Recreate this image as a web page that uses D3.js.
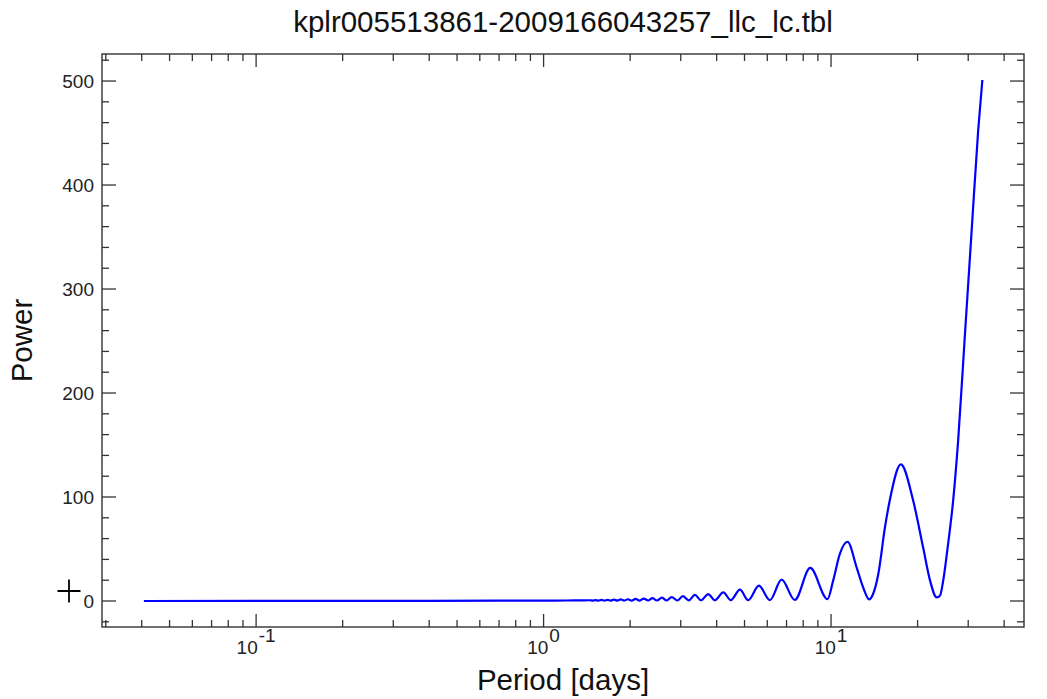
<!DOCTYPE html>
<html>
<head>
<meta charset="utf-8">
<script src="https://cdn.jsdelivr.net/npm/d3@7"></script>
<style>
  body { margin: 0; background: #fff; }
  svg { font-family: "Liberation Sans", Arial, Helvetica, sans-serif; }
</style>
</head>
<body>
<svg id="chart" width="1047" height="699"></svg>
<script>
// periodogram: period in days, power
var period = [0.0407, 0.1, 0.2, 0.4, 0.7, 1.0, 1.2, 1.35, 1.44, 1.48, 1.515, 1.551, 1.588, 1.628,
  1.669, 1.712, 1.757, 1.805, 1.855, 1.908, 1.965, 2.025, 2.09, 2.155, 2.23, 2.31, 2.39, 2.48,
  2.58, 2.68, 2.79, 2.92, 3.05, 3.20, 3.36, 3.53, 3.74, 3.94, 4.22, 4.48, 4.82, 5.15, 5.61,
  6.13, 6.73, 7.48, 8.46, 9.72, 10.17, 10.73, 11.41, 12.27, 12.93, 13.57, 14.0, 14.6, 15.4,
  16.0, 17.49, 19.3, 20.9, 22.1, 23.3, 23.92, 24.55, 25.54, 26.59, 27.67, 29.2, 30.9, 32.5, 33.6];
var power = [0.02, 0.05, 0.1, 0.2, 0.3, 0.4, 0.5, 0.6, 0.7, 0.4, 0.9, 0.4, 1.0, 0.4,
  1.1, 0.4, 1.3, 0.4, 1.5, 0.4, 1.7, 0.4, 2.0, 0.4, 2.3, 0.5, 2.7, 0.5,
  3.2, 0.5, 3.8, 0.5, 4.6, 0.6, 5.8, 0.7, 6.7, 0.7, 8.3, 0.8, 10.9, 0.8, 14.7,
  0.9, 20.5, 1.0, 31.8, 1.8, 19.6, 45.3, 57.0, 32.4, 13.1, 1.5, 6.7, 26, 70.9,
  96.6, 131.3, 96.6, 51.6, 19.6, 3.5, 5, 19.5, 55, 96.6, 154, 255, 360, 453, 501];

var xDomain = [0.0291, 46.9];
var yDomain = [-25, 526];
var yMajor = [0, 100, 200, 300, 400, 500];
var xMajor = [0.1, 1, 10];
var xMajorExp = ["-1", "0", "1"];
var titleText = "kplr005513861-2009166043257_llc_lc.tbl";
var xTitle = "Period [days]";
var yTitle = "Power";

var svg = d3.select("#chart");
var m = {left: 102, right: 1024, top: 54, bottom: 627};
var axisColor = "#333";

var x = d3.scaleLog().domain(xDomain).range([m.left, m.right]);
var y = d3.scaleLinear().domain(yDomain).range([m.bottom, m.top]);

// minor ticks on the log axis: 2..9 x 10^n inside the domain
var xMinor = [];
[-2, -1, 0, 1].forEach(function(e) {
  for (var k = 2; k <= 9; k++) {
    var v = k * Math.pow(10, e);
    if (v > xDomain[0] && v < xDomain[1]) xMinor.push(v);
  }
});
var yMinor = d3.range(-20, 521, 20).filter(function(v) { return v % 100 !== 0; });

// frame
svg.append("rect")
  .attr("x", m.left).attr("y", m.top)
  .attr("width", m.right - m.left).attr("height", m.bottom - m.top)
  .attr("fill", "none").attr("stroke", axisColor).attr("stroke-width", 1.4);

var ticks = svg.append("g").attr("stroke", axisColor).attr("stroke-width", 1.3);

function xTick(v, len) {
  ticks.append("line").attr("x1", x(v)).attr("x2", x(v)).attr("y1", m.bottom).attr("y2", m.bottom - len);
  ticks.append("line").attr("x1", x(v)).attr("x2", x(v)).attr("y1", m.top).attr("y2", m.top + len);
}
function yTick(v, len) {
  ticks.append("line").attr("y1", y(v)).attr("y2", y(v)).attr("x1", m.left).attr("x2", m.left + len);
  ticks.append("line").attr("y1", y(v)).attr("y2", y(v)).attr("x1", m.right).attr("x2", m.right - len);
}
xMajor.forEach(function(v) { xTick(v, 13); });
xMinor.forEach(function(v) { xTick(v, 7); });
yMajor.forEach(function(v) { yTick(v, 14); });
yMinor.forEach(function(v) { yTick(v, 7); });

// y tick labels
svg.append("g").selectAll("text").data(yMajor).enter().append("text")
  .attr("x", 94).attr("y", function(d) { return y(d); })
  .attr("dy", "0.36em")
  .attr("text-anchor", "end")
  .attr("font-size", 19).attr("fill", "#222")
  .text(function(d) { return d; });

// x tick labels 10^n
xMajor.forEach(function(v, i) {
  var t = svg.append("text")
    .attr("x", x(v)).attr("y", 654)
    .attr("text-anchor", "middle")
    .attr("font-size", 19).attr("fill", "#222");
  t.append("tspan").text("10");
  t.append("tspan").attr("dy", -12).attr("dx", 1).text(xMajorExp[i]);
});

// series
var line = d3.line()
  .x(function(d, i) { return x(period[i]); })
  .y(function(d) { return y(d); })
  .curve(d3.curveMonotoneX);

svg.append("path")
  .datum(power)
  .attr("d", line)
  .attr("fill", "none")
  .attr("stroke", "#0000ff")
  .attr("stroke-width", 2.2)
  .attr("stroke-linejoin", "round");

// titles
svg.append("text")
  .attr("x", (m.left + m.right) / 2).attr("y", 32)
  .attr("text-anchor", "middle").attr("font-size", 29.5).attr("fill", "#111")
  .text(titleText);

svg.append("text")
  .attr("x", (m.left + m.right) / 2).attr("y", 690)
  .attr("text-anchor", "middle").attr("font-size", 29.5).attr("fill", "#111")
  .text(xTitle);

svg.append("text")
  .attr("transform", "translate(32," + (m.top + m.bottom) / 2 + ") rotate(-90)")
  .attr("text-anchor", "middle").attr("font-size", 29.5).attr("fill", "#111")
  .text(yTitle);

// cursor cross at the left
svg.append("path")
  .attr("d", "M57.5,591H80.5M69,579.5V602.5")
  .attr("stroke", "#000").attr("stroke-width", 1.8);
</script>
</body>
</html>
